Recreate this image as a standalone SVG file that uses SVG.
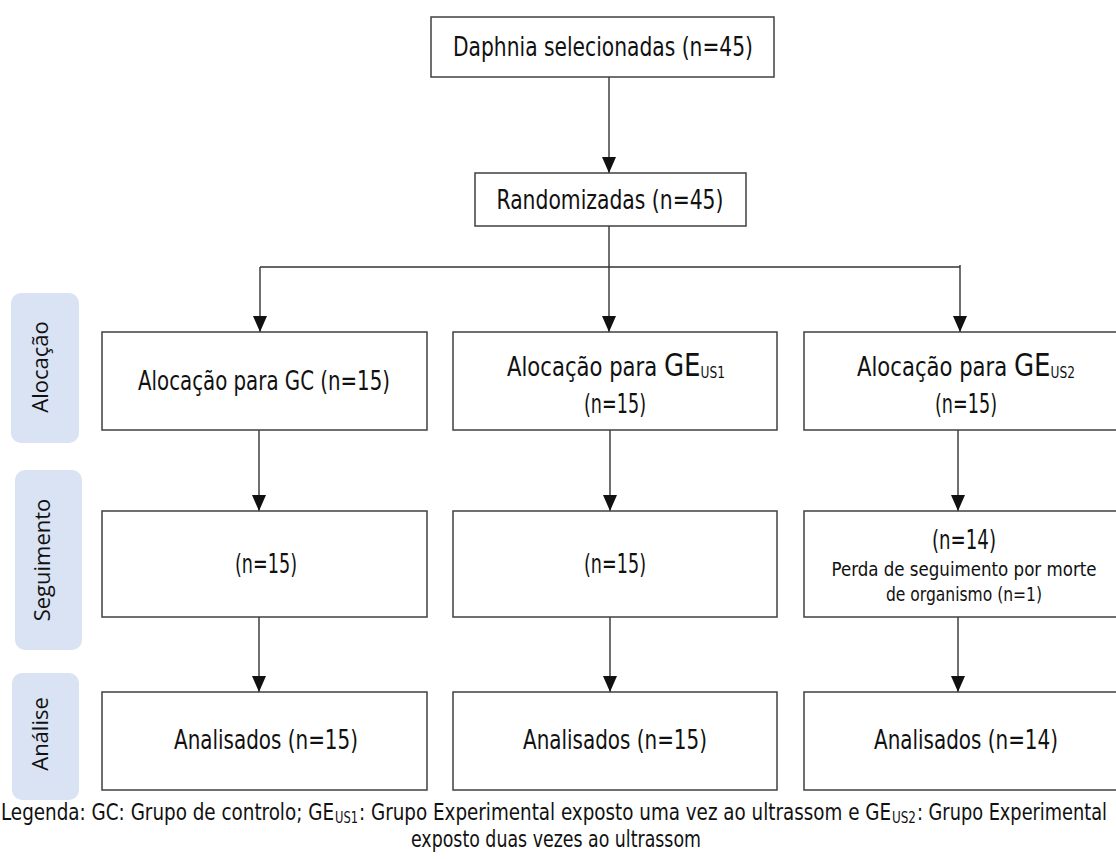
<svg xmlns="http://www.w3.org/2000/svg" width="1116" height="859" viewBox="0 0 1116 859">
<style>
.box{fill:#fff;stroke:#404040;stroke-width:1.5}
.lab{fill:#dae3f3;stroke:none}
.t{font-family:"Liberation Sans Narrow","DejaVu Sans Condensed","Roboto",sans-serif;font-size:26px;fill:#111;text-anchor:middle}
.s{font-size:20px}
.ge{font-size:32px}
.sub{font-size:15px}
.side{font-family:"Open Sans","Noto Sans",sans-serif;font-size:22px;fill:#111;text-anchor:middle}
.c{stroke:#333;stroke-width:1.4;fill:none}
.leg{font-family:"Liberation Sans Narrow","DejaVu Sans Condensed","Roboto",sans-serif;font-size:23px;fill:#111}
.lsub{font-size:15px}
</style>
<defs>
<marker id="ah" viewBox="0 0 16 14" refX="16" refY="7" markerWidth="16" markerHeight="14" markerUnits="userSpaceOnUse" orient="auto">
<path d="M0,0 L16,7 L0,14 Z" fill="#111"/>
</marker>
</defs>
<g id="side-labels">
<g id="lab-alocacao"><rect class="lab" x="11" y="293" width="68" height="150" rx="10"/><text class="side" transform="translate(48,367) rotate(-90)">Alocação</text></g>
<g id="lab-seguimento"><rect class="lab" x="15" y="470" width="67" height="180" rx="10"/><text class="side" transform="translate(50,560) rotate(-90)">Seguimento</text></g>
<g id="lab-analise"><rect class="lab" x="12" y="673" width="67" height="127" rx="10"/><text class="side" transform="translate(48,734) rotate(-90)">Análise</text></g>
</g>
<g id="connectors">
<line class="c" x1="609" y1="77" x2="609" y2="173" marker-end="url(#ah)"/>
<line class="c" x1="609" y1="226" x2="609" y2="332" marker-end="url(#ah)"/>
<line class="c" x1="260" y1="267" x2="960" y2="267"/>
<line class="c" x1="260" y1="267" x2="260" y2="332" marker-end="url(#ah)"/>
<line class="c" x1="960" y1="265" x2="960" y2="332" marker-end="url(#ah)"/>
<line class="c" x1="259" y1="430" x2="259" y2="511" marker-end="url(#ah)"/>
<line class="c" x1="610" y1="430" x2="610" y2="511" marker-end="url(#ah)"/>
<line class="c" x1="958" y1="430" x2="958" y2="511" marker-end="url(#ah)"/>
<line class="c" x1="259" y1="617" x2="259" y2="692" marker-end="url(#ah)"/>
<line class="c" x1="610" y1="617" x2="610" y2="692" marker-end="url(#ah)"/>
<line class="c" x1="958" y1="617" x2="958" y2="692" marker-end="url(#ah)"/>
</g>
<g id="n-daphnia"><rect class="box" x="431" y="17" width="343" height="60"/><text class="t" x="603" y="56" textLength="300" lengthAdjust="spacingAndGlyphs">Daphnia selecionadas (n=45)</text></g>
<g id="n-random"><rect class="box" x="475" y="173" width="271" height="53"/><text class="t" x="610" y="209" textLength="227" lengthAdjust="spacingAndGlyphs">Randomizadas (n=45)</text></g>
<g id="n-aloc-gc"><rect class="box" x="102" y="332" width="325" height="98"/><text class="t" x="264" y="390" textLength="252" lengthAdjust="spacingAndGlyphs">Alocação para GC (n=15)</text></g>
<g id="n-aloc-ge1"><rect class="box" x="453" y="332" width="324" height="98"/><text class="t" x="616" y="376" textLength="218" lengthAdjust="spacingAndGlyphs">Alocação para <tspan class="ge">GE</tspan><tspan class="sub" dy="2">US1</tspan></text><text class="t" x="615" y="413" textLength="62" lengthAdjust="spacingAndGlyphs">(n=15)</text></g>
<g id="n-aloc-ge2"><rect class="box" x="804" y="332" width="324" height="98"/><text class="t" x="966" y="376" textLength="218" lengthAdjust="spacingAndGlyphs">Alocação para <tspan class="ge">GE</tspan><tspan class="sub" dy="2">US2</tspan></text><text class="t" x="966" y="413" textLength="62" lengthAdjust="spacingAndGlyphs">(n=15)</text></g>
<g id="n-seg-gc"><rect class="box" x="102" y="511" width="325" height="106"/><text class="t" x="266" y="573" textLength="62" lengthAdjust="spacingAndGlyphs">(n=15)</text></g>
<g id="n-seg-ge1"><rect class="box" x="453" y="511" width="324" height="106"/><text class="t" x="615" y="573" textLength="62" lengthAdjust="spacingAndGlyphs">(n=15)</text></g>
<g id="n-seg-ge2"><rect class="box" x="804" y="511" width="324" height="106"/><text class="t" x="964" y="549" textLength="64" lengthAdjust="spacingAndGlyphs">(n=14)</text><text class="t s" x="964" y="576" textLength="265" lengthAdjust="spacingAndGlyphs">Perda de seguimento por morte</text><text class="t s" x="964" y="601" textLength="156" lengthAdjust="spacingAndGlyphs">de organismo (n=1)</text></g>
<g id="n-an-gc"><rect class="box" x="102" y="692" width="325" height="98"/><text class="t" x="266" y="749" textLength="184" lengthAdjust="spacingAndGlyphs">Analisados (n=15)</text></g>
<g id="n-an-ge1"><rect class="box" x="453" y="692" width="324" height="98"/><text class="t" x="615" y="749" textLength="184" lengthAdjust="spacingAndGlyphs">Analisados (n=15)</text></g>
<g id="n-an-ge2"><rect class="box" x="804" y="692" width="324" height="98"/><text class="t" x="966" y="749" textLength="184" lengthAdjust="spacingAndGlyphs">Analisados (n=14)</text></g>
<g id="legend">
<text class="leg" x="1" y="820" textLength="333" lengthAdjust="spacingAndGlyphs">Legenda: GC: Grupo de controlo; GE</text>
<text class="leg lsub" x="335" y="823" textLength="23" lengthAdjust="spacingAndGlyphs">US1</text>
<text class="leg" x="359" y="820" textLength="532" lengthAdjust="spacingAndGlyphs">: Grupo Experimental exposto uma vez ao ultrassom e GE</text>
<text class="leg lsub" x="892" y="823" textLength="24" lengthAdjust="spacingAndGlyphs">US2</text>
<text class="leg" x="917" y="820" textLength="190" lengthAdjust="spacingAndGlyphs">: Grupo Experimental</text>
<text class="leg" x="556" y="847" text-anchor="middle" textLength="290" lengthAdjust="spacingAndGlyphs">exposto duas vezes ao ultrassom</text>
</g>
</svg>
